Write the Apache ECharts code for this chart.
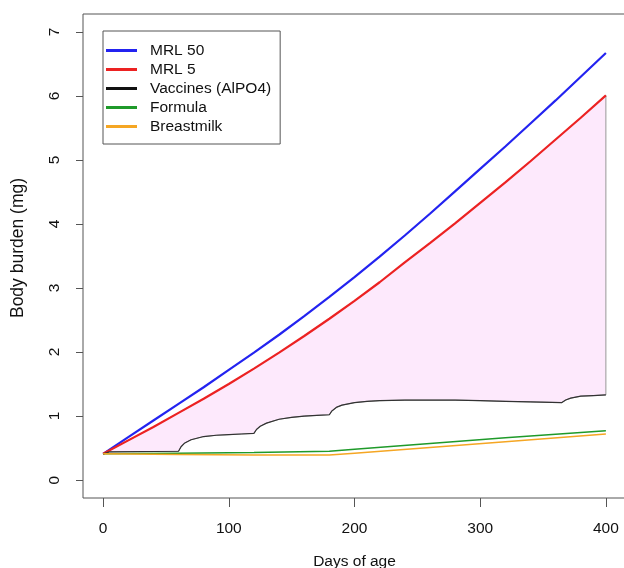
<!DOCTYPE html>
<html>
<head>
<meta charset="utf-8">
<script src="https://cdn.jsdelivr.net/npm/echarts@6/dist/echarts.min.js"></script>
<style>
  html, body { margin: 0; padding: 0; background: #fff; }
  #chart { width: 624px; height: 568px; }
</style>
</head>
<body>
<div id="chart"></div>
<script>
// days / values
var mrlDays = [0, 20, 40, 60, 80, 100, 120, 140, 160, 180, 200, 220, 240, 260, 280, 300, 320, 340, 360, 380, 400];
var mrl50 = [0.41, 0.67, 0.93, 1.19, 1.45, 1.72, 1.99, 2.27, 2.56, 2.86, 3.17, 3.49, 3.82, 4.16, 4.51, 4.86, 5.21, 5.57, 5.93, 6.30, 6.67];
var mrl5 = [0.41, 0.62, 0.83, 1.05, 1.27, 1.50, 1.74, 1.99, 2.25, 2.52, 2.80, 3.09, 3.40, 3.70, 4.01, 4.33, 4.65, 4.98, 5.32, 5.66, 6.01];

var vaccineDays = [0, 5, 60, 62, 65, 70, 80, 90, 100, 110, 120, 122, 125, 130, 140, 150, 160, 170, 180, 182, 186, 190, 200, 210, 220, 240, 260, 280, 300, 320, 340, 365, 368, 372, 380, 390, 400];
var vaccines = [0.41, 0.44, 0.45, 0.52, 0.58, 0.63, 0.68, 0.70, 0.71, 0.72, 0.73, 0.79, 0.84, 0.89, 0.95, 0.98, 1.00, 1.01, 1.02, 1.08, 1.14, 1.17, 1.21, 1.23, 1.24, 1.25, 1.25, 1.25, 1.24, 1.23, 1.22, 1.21, 1.25, 1.28, 1.31, 1.32, 1.33];

var dietDays = [0, 60, 120, 180, 200, 260, 320, 400];
var formula = [0.41, 0.42, 0.43, 0.45, 0.48, 0.57, 0.66, 0.77];
var breastmilk = [0.41, 0.40, 0.39, 0.39, 0.42, 0.51, 0.60, 0.72];

var xTicks = [0, 100, 200, 300, 400];
var yTicks = [0, 1, 2, 3, 4, 5, 6, 7];

function pairs(xs, ys) {
	var out = [];
	for (var i = 0; i < xs.length; i++) out.push([xs[i], ys[i]]);
	return out;
}

var myChart = echarts.init(document.getElementById("chart"));
var font = 'Liberation Sans, Arial, sans-serif';

var option = {
	animation: false,
	textStyle: { fontFamily: font },
	grid: {
		left: 83, top: 14, width: 543, height: 484,
		outerBoundsMode: 'none',
		containLabel: false,
		show: true, borderColor: '#555', borderWidth: 1,
		backgroundColor: 'transparent'
	},
	legend: {
		left: 103, top: 31,
		orient: 'vertical',
		data: ['MRL 50', 'MRL 5', 'Vaccines (AlPO4)', 'Formula', 'Breastmilk'],
		icon: 'rect',
		itemWidth: 31,
		itemHeight: 3,
		itemGap: 0,
		padding: [10, 9, 8, 3],
		borderColor: '#555',
		borderWidth: 1,
		textStyle: {
			fontFamily: font, fontSize: 15.5, color: '#111',
			lineHeight: 19, padding: [0, 0, 0, 8]
		}
	},
	xAxis: {
		type: 'value', min: -16, max: 416,
		name: 'Days of age', nameLocation: 'middle', nameGap: 56,
		nameTextStyle: { fontFamily: font, fontSize: 15.5, color: '#111' },
		axisLine: { show: false, onZero: false },
		splitLine: { show: false },
		axisTick: { show: true, length: 9, customValues: xTicks, lineStyle: { color: '#555' } },
		axisLabel: { customValues: xTicks, margin: 23, fontSize: 15.5, color: '#111', fontFamily: font }
	},
	yAxis: {
		type: 'value', min: -0.28, max: 7.28,
		name: 'Body burden (mg)', nameLocation: 'middle', nameGap: 56,
		nameTextStyle: { fontFamily: font, fontSize: 17.5, color: '#111', padding: [0, 0, 0, 16] },
		axisLine: { show: false, onZero: false },
		splitLine: { show: false },
		axisTick: { show: true, length: 7, customValues: yTicks, lineStyle: { color: '#555' } },
		axisLabel: { customValues: yTicks, rotate: 90, margin: 20, fontSize: 15.5, color: '#111', fontFamily: font }
	},
	series: [
		{
			name: 'fill',
			type: 'custom',
			silent: true,
			data: [[0, 0.41]],
			renderItem: function(params, api) {
				var pts = [];
				for (var i = 0; i < mrlDays.length; i++) pts.push(api.coord([mrlDays[i], mrl5[i]]));
				for (var j = vaccineDays.length - 1; j >= 0; j--) pts.push(api.coord([vaccineDays[j], vaccines[j]]));
				return {
					type: 'polygon',
					shape: { points: pts },
					style: { fill: '#fde9fc', stroke: '#999', lineWidth: 1 }
				};
			},
			z: 1
		},
		{
			name: 'MRL 50', type: 'line', showSymbol: false, data: pairs(mrlDays, mrl50),
			color: '#2323f0', lineStyle: { width: 2.2, color: '#2323f0' }, z: 3
		},
		{
			name: 'MRL 5', type: 'line', showSymbol: false, data: pairs(mrlDays, mrl5),
			color: '#ec2222', lineStyle: { width: 2.2, color: '#ec2222' }, z: 3
		},
		{
			name: 'Vaccines (AlPO4)', type: 'line', showSymbol: false, data: pairs(vaccineDays, vaccines),
			color: '#111', lineStyle: { width: 1.2, color: '#333' }, z: 3
		},
		{
			name: 'Formula', type: 'line', showSymbol: false, data: pairs(dietDays, formula),
			color: '#1f9a2a', lineStyle: { width: 1.5, color: '#1f9a2a' }, z: 3
		},
		{
			name: 'Breastmilk', type: 'line', showSymbol: false, data: pairs(dietDays, breastmilk),
			color: '#f5a623', lineStyle: { width: 1.5, color: '#f5a623' }, z: 3
		}
	]
};

myChart.setOption(option);
</script>
</body>
</html>
